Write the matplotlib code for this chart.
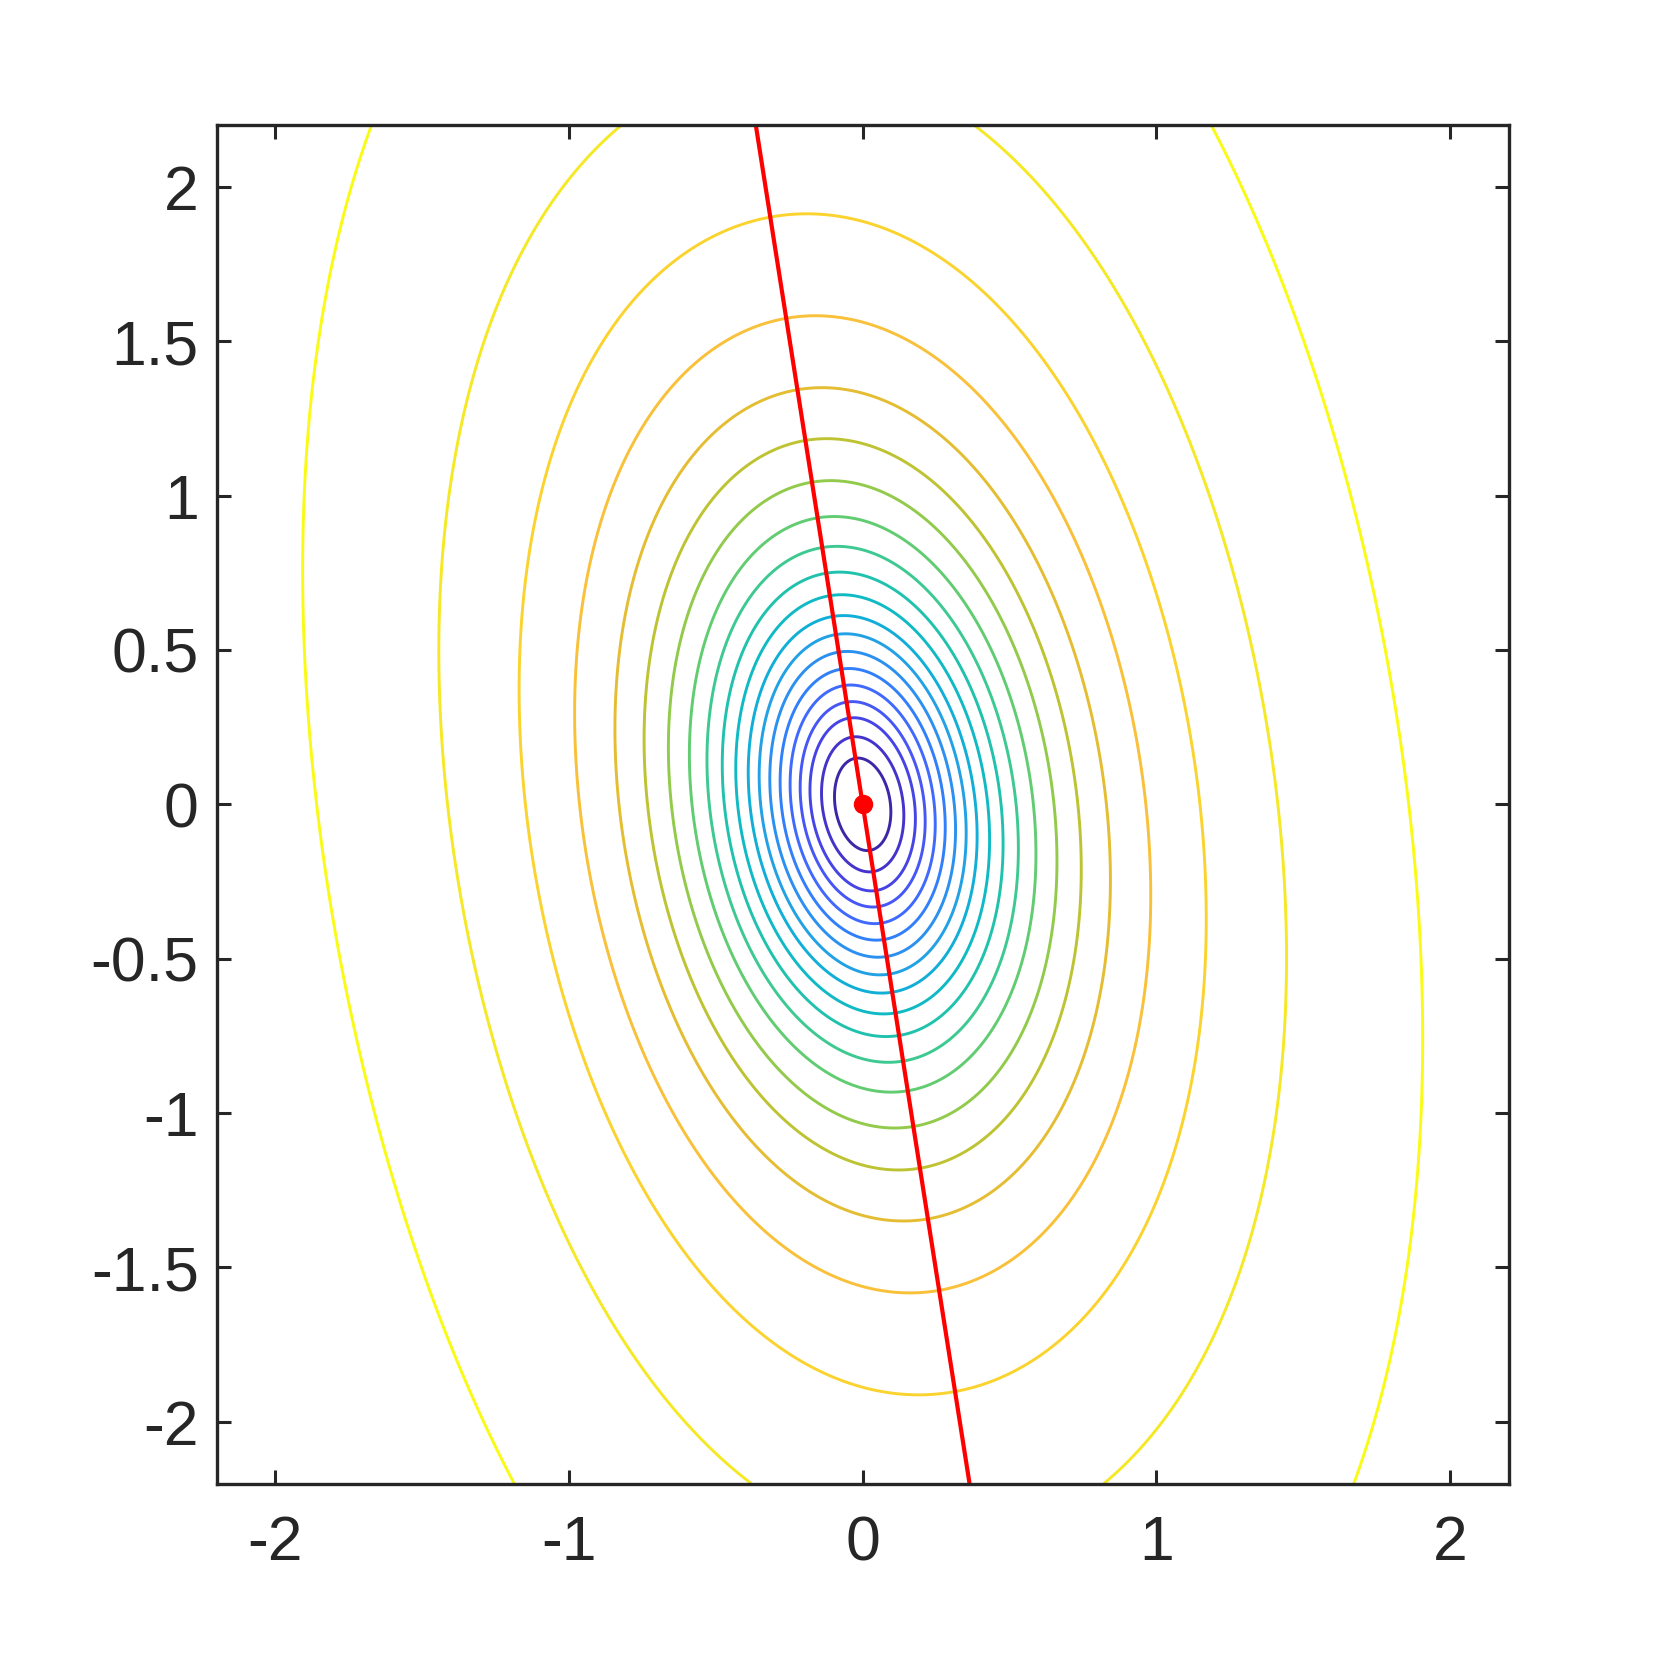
import numpy as np
import matplotlib
matplotlib.use("Agg")
import matplotlib.pyplot as plt
from matplotlib.colors import LinearSegmentedColormap

# ---------------- values ----------------
# distance of each contour from the centre along y = 0 (inner -> outer)
x_cross = [0.100, 0.146, 0.187, 0.222, 0.257, 0.291, 0.326, 0.363, 0.401, 0.442,
           0.488, 0.537, 0.596, 0.666, 0.746, 0.845, 0.975, 1.150, 1.417, 1.840]
# height where contours 1..18 cross x = 0
y_cross = [0.139, 0.203, 0.260, 0.308, 0.359, 0.411, 0.465, 0.519, 0.575, 0.643,
           0.714, 0.800, 0.895, 1.010, 1.146, 1.321, 1.553, 1.880]
# where the two outer contours leave the box at the top edge: (contour index, x)
top_edge = [(19, -1.672), (19, 1.187), (18, -0.834), (18, 0.381)]
# extra points on the outer contours: (contour index, x, y)
extra_pts = [(19, -1.83, 1.575), (19, -1.90, 1.23), (19, -1.916, 0.92),
             (19, -1.905, 0.54), (19, -1.78, -0.49), (19, -1.666, -1.0), (19, -1.51, -1.5),
             (19, -1.35, -1.87),
             (18, -1.25, 1.5), (18, -1.38, 1.0), (18, -1.46, 0.55),
             (18, -1.33, -0.5), (18, -1.177, -1.0), (18, -0.94, -1.5),
             (17, -0.180, 1.90), (17, -1.18, 0.40),
             (16, -0.150, 1.572), (15, -0.126, 1.334)]

centre_x, centre_y = [0.0], [0.0]
line_x = [-0.364, 0.364]
line_y = [2.2, -2.2]

xticks = [-2, -1, 0, 1, 2]
xticklabels = ['-2', '-1', '0', '1', '2']
yticks = [-2, -1.5, -1, -0.5, 0, 0.5, 1, 1.5, 2]
yticklabels = ['-2', '-1.5', '-1', '-0.5', '0', '0.5', '1', '1.5', '2']

# MATLAB parula colormap (sampled)
parula_pts = [(0.2422, 0.1504, 0.6603), (0.2706, 0.2147, 0.8364), (0.2813, 0.3006, 0.9414),
              (0.2699, 0.3892, 0.9906), (0.1963, 0.4847, 0.9892), (0.1687, 0.5703, 0.9359),
              (0.1248, 0.6459, 0.8883), (0.0297, 0.7082, 0.8163), (0.0964, 0.7500, 0.7120),
              (0.2161, 0.7843, 0.5923), (0.3909, 0.8029, 0.4354), (0.6174, 0.7876, 0.2612),
              (0.8203, 0.7498, 0.1535), (0.9728, 0.7298, 0.2394), (0.9892, 0.8136, 0.1885),
              (0.9597, 0.9135, 0.1423), (0.9769, 0.9839, 0.0805)]
parula_pos = [i * 4 / 63 for i in range(16)] + [1.0]
parula = LinearSegmentedColormap.from_list("parula", list(zip(parula_pos, parula_pts)))

#-----------------------------------------------------#
# fit a smooth point-symmetric surface through the read points:
# f = y^2 + a x^2 + b xy + s (x^2 + t xy + u y^2)^2 + e x^2 y^2 + g y^4
# with s, e, g kept >= 0 so the quartic part never turns downwards

ncont = len(x_cross)
pts = []
for k, r in enumerate(x_cross):
    pts += [(k, -r, 0.0, 1.0), (k, r, 0.0, 1.0)]
for k, r in enumerate(y_cross):
    pts += [(k, 0.0, r, 1.0), (k, 0.0, -r, 1.0)]
for k, x in top_edge:
    pts += [(k, x, 2.2, 3.0), (k, -x, -2.2, 3.0)]
for k, x, y in extra_pts:
    pts += [(k, x, y, 1.0), (k, -x, -y, 1.0)]
pk = np.array([p[0] for p in pts])
px = np.array([p[1] for p in pts])
py = np.array([p[2] for p in pts])
pw = np.array([p[3] for p in pts])

def terms(x, y, t, u):
    return {'a': x**2, 'b': x*y, 's': (x**2 + t*x*y + u*y**2)**2,
            'e': x**2 * y**2, 'g': y**4}

def solve(t, u):
    names = ['a', 'b', 's', 'e', 'g']
    while True:
        tm = terms(px, py, t, u)
        lev = np.zeros((len(pts), ncont))
        lev[np.arange(len(pts)), pk] = -1.0
        M = np.column_stack([tm[n] for n in names] + [lev]) * pw[:, None]
        rhs = -py**2 * pw
        sol = np.linalg.lstsq(M, rhs, rcond=None)[0]
        c = dict(zip(names, sol[:len(names)]))
        neg = [n for n in ('s', 'e', 'g') if n in c and c[n] < 0]
        if not neg:
            r = np.sum((M @ sol - rhs)**2)
            return r, c, sol[len(names):]
        names.remove(min(neg, key=lambda n: c[n]))

best = None
for t in np.linspace(-1.5, 1.5, 61):
    for u in np.linspace(-0.6, 0.6, 25):
        r, c, lv = solve(t, u)
        if best is None or r < best[0]:
            best = (r, c, lv, t, u)
_, coef, levels, tb, ub = best
levels = np.sort(levels)

def surface(x, y):
    tm = terms(x, y, tb, ub)
    return y**2 + sum(coef[n] * tm[n] for n in coef)

#-----------------------------------------------------#

fig = plt.figure(figsize=(16.67, 16.67), dpi=100)
ax = fig.add_axes([0.13, 0.11, 0.775, 0.815])

g = np.linspace(-2.2, 2.2, 801)
X, Y = np.meshgrid(g, g)
Z = surface(X, Y)
cols = [parula(t) for t in np.linspace(0, 1, ncont)]
ax.contour(X, Y, Z, levels=levels, colors=cols, linewidths=2.1)

ax.plot(line_x, line_y, color='red', lw=3.0, solid_capstyle='butt')
ax.plot(centre_x, centre_y, 'o', color='red', ms=13)

ax.set_xlim(-2.2, 2.2)
ax.set_ylim(-2.2, 2.2)
ax.set_xticks(xticks)
ax.set_xticklabels(xticklabels)
ax.set_yticks(yticks)
ax.set_yticklabels(yticklabels)

axcol = (0.15, 0.15, 0.15)
for s in ax.spines.values():
    s.set_linewidth(2.4)
    s.set_color(axcol)
ax.tick_params(direction='in', length=10, width=2.2, color=axcol, labelcolor=axcol,
               top=True, right=True, labelsize=45)
ax.tick_params(axis='y', pad=13)
ax.tick_params(axis='x', pad=22)
for lab in ax.get_xticklabels() + ax.get_yticklabels():
    lab.set_family(['Liberation Sans', 'DejaVu Sans'])

fig.savefig('out.png', dpi=100, facecolor='white')
